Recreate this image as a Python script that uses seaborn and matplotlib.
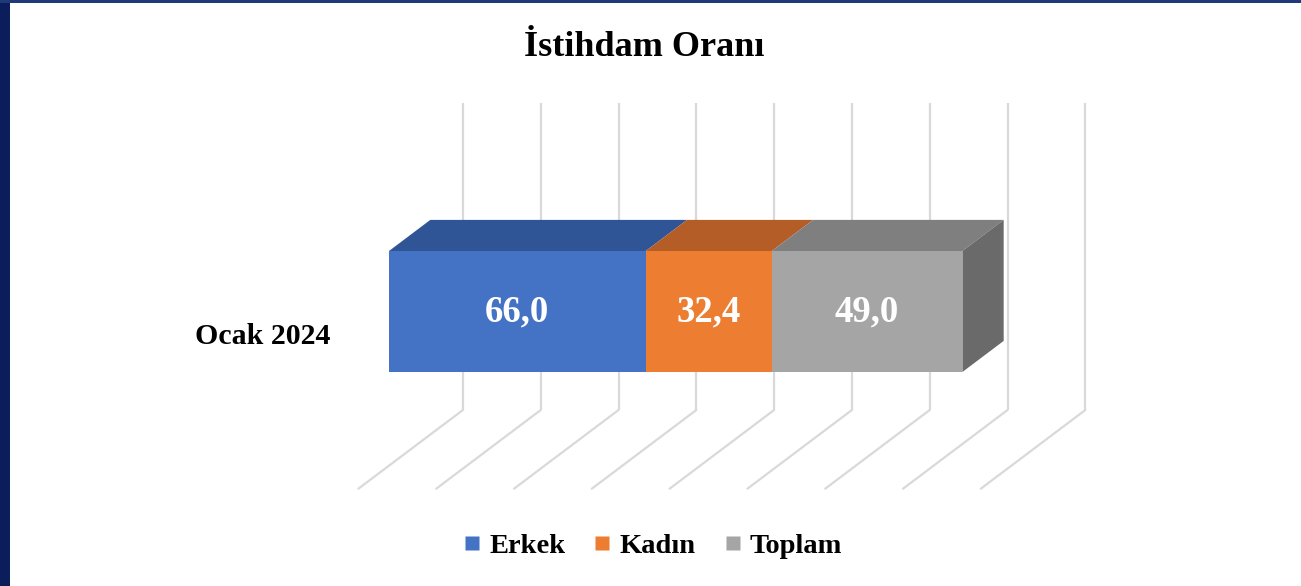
import numpy as np
import matplotlib
matplotlib.use('Agg')
import matplotlib.pyplot as plt
from matplotlib.patches import Rectangle, Polygon
from matplotlib.lines import Line2D
import seaborn as sns

# veriler
kategori = ['Ocak 2024']
seriler = ['Erkek', 'Kadın', 'Toplam']
degerler = [66.0, 32.4, 49.0]
etiketler = ['66,0', '32,4', '49,0']

on_renk = ['#4472C4', '#ED7D31', '#A5A5A5']
ust_renk = ['#2F5597', '#B55D27', '#7F7F7F']
yan_renk = '#6A6A6A'

sns.set_theme(style='white')
plt.rcParams['font.family'] = ['Liberation Serif', 'DejaVu Serif']
plt.rcParams['text.color'] = 'black'

W, H = 1301, 586
fig = plt.figure(figsize=(W / 100, H / 100), dpi=100)
ax = fig.add_axes([0, 0, 1, 1])

# piksel olcegi (on yuz duzlemi)
px_x = 3.89      # px / birim
px_y = 151.25    # px / kategori birimi
x0_px, y0_px = 389, 311.5

# 3B derinlik kaydirmasi (bir derinlik birimi = cubugun derinligi)
dx = 41.3 / px_x
dy = 31.1 / px_y
arka_duvar = 1.79
on_zemin = -0.74
zemin_y = (410 - y0_px) / px_y
grid_ust = (103 - y0_px) / px_y

# arka duvar ve zemin cizgileri
for v in np.arange(0, 161, 20):
    xb = v + arka_duvar * dx
    ax.plot([xb, xb], [grid_ust, zemin_y], color='#D9D9D9', lw=1.6, zorder=1,
            solid_capstyle='butt')
    xf = v + on_zemin * dx
    yf = zemin_y + (arka_duvar - on_zemin) * dy
    ax.plot([xb, xf], [zemin_y, yf], color='#D9D9D9', lw=1.6, zorder=1)

# yigilmis on yuzler (seaborn ile, buyukten kucuge)
kum = np.cumsum(degerler)
for i in reversed(range(len(degerler))):
    sns.barplot(x=[kum[i]], y=kategori, color=on_renk[i], saturation=1,
                orient='h', width=0.8, ax=ax, zorder=3, linewidth=0)

# ust yuzler ve yan yuz
h = 0.4
sol = np.concatenate([[0], kum[:-1]])
for i in range(len(degerler)):
    l, r = sol[i], kum[i]
    ax.add_patch(Polygon([(l, -h), (r, -h), (r + dx, -h - dy), (l + dx, -h - dy)],
                         closed=True, facecolor=ust_renk[i], edgecolor='none', zorder=3))
R = kum[-1]
ax.add_patch(Polygon([(R, -h), (R + dx, -h - dy), (R + dx, h - dy), (R, h)],
                     closed=True, facecolor=yan_renk, edgecolor='none', zorder=3))

# deger etiketleri
for i in range(len(degerler)):
    ax.text((sol[i] + kum[i]) / 2, 0, etiketler[i], ha='center', va='center',
            color='white', fontsize=26.5, fontweight='bold', zorder=5)

# kategori etiketi
ax.text(-15, (337 - y0_px) / px_y, kategori[0], ha='right', va='center',
        fontsize=21.5, fontweight='bold', color='black')

ax.set_xlim(-x0_px / px_x, (W - x0_px) / px_x)
ax.set_ylim((H - y0_px) / px_y, -y0_px / px_y)
ax.set_xticks([])
ax.set_yticks([])
ax.set_xlabel('')
ax.set_ylabel('')
for s in ax.spines.values():
    s.set_visible(False)

# kenarlik
fig.patches.append(Rectangle((0, 0), 10 / W, 1, transform=fig.transFigure,
                             facecolor='#0B1E5B', edgecolor='none', zorder=10))
fig.patches.append(Rectangle((0, 1 - 3 / H), 1, 3 / H, transform=fig.transFigure,
                             facecolor='#1F3A78', edgecolor='none', zorder=10))

# baslik
fig.text(644 / W, 1 - 48 / H, 'İstihdam Oranı', ha='center', va='center',
         fontsize=26, fontweight='bold', color='black')

# lejant
tutamac = [Line2D([], [], marker='s', linestyle='none', markersize=10,
                  markerfacecolor=c, markeredgecolor='none') for c in on_renk]
lej = fig.legend(tutamac, seriler, loc='center', bbox_to_anchor=(650 / W, 1 - 546 / H),
                 ncol=3, frameon=False, prop={'size': 20.5, 'weight': 'bold'},
                 handletextpad=0.1, columnspacing=0.8, handlelength=1.0)
for t in lej.get_texts():
    t.set_color('black')

fig.savefig('out.png', dpi=100)
